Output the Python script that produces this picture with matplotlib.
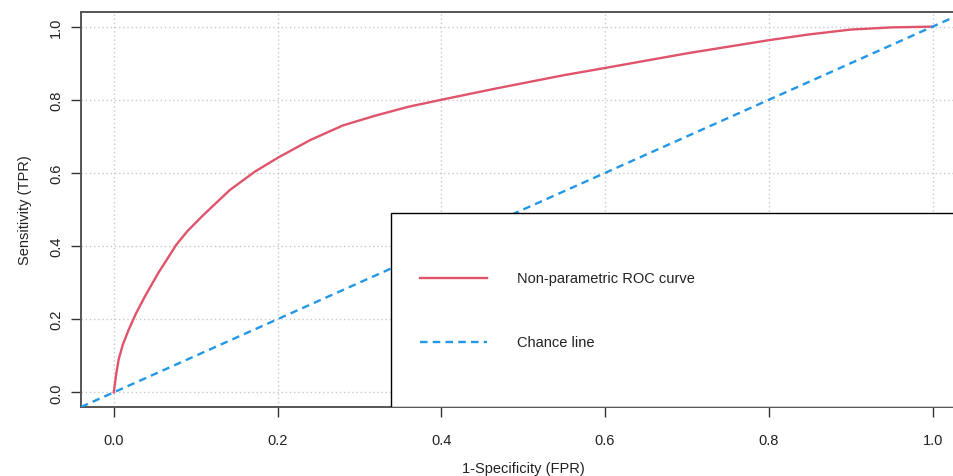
import matplotlib.pyplot as plt
from matplotlib.patches import Rectangle
from matplotlib.lines import Line2D

plt.rcParams['font.family'] = ['Liberation Sans', 'DejaVu Sans']

# ROC curve
fpr = [0.0, 0.003, 0.006, 0.011, 0.018, 0.027, 0.038, 0.054, 0.0765, 0.09,
       0.109, 0.1416, 0.172, 0.2, 0.24, 0.28, 0.32, 0.36, 0.4, 0.467,
       0.549, 0.6, 0.7, 0.8, 0.85, 0.9, 0.95, 1.0]
tpr = [0.0, 0.05, 0.09, 0.13, 0.17, 0.215, 0.262, 0.325, 0.404, 0.441,
       0.484, 0.553, 0.603, 0.641, 0.69, 0.73, 0.757, 0.781, 0.8, 0.831,
       0.867, 0.887, 0.927, 0.963, 0.979, 0.992, 0.998, 1.0]
ticks = [0.0, 0.2, 0.4, 0.6, 0.8, 1.0]
tick_labels = ['0.0', '0.2', '0.4', '0.6', '0.8', '1.0']
legend_labels = ['Non-parametric ROC curve', 'Chance line']

red = '#DF536B'
blue = '#2297E6'

fig = plt.figure(figsize=(9.54, 4.77), dpi=100)
ax = fig.add_axes([0.0849, 0.1447, 0.927, 0.828])
ax.set_xlim(-0.04, 1.04)
ax.set_ylim(-0.04, 1.04)

ax.set_xticks(ticks)
ax.set_xticklabels(tick_labels)
ax.set_yticks(ticks)
ax.set_yticklabels(tick_labels, rotation=90, va='center')
ax.tick_params(direction='out', length=7, width=1, color='#333333',
               labelsize=10.5, labelcolor='#222222', pad=6)
ax.tick_params(axis='x', pad=12)
ax.grid(True, color='#c8c8c8', linestyle=(0, (1, 2)), linewidth=1)
ax.set_axisbelow(True)
for s in ax.spines.values():
    s.set_color('#555555')
    s.set_linewidth(1.4)

ax.plot(fpr, tpr, color=red, lw=1.7, zorder=3, solid_joinstyle='round')
ax.axline((0, 0), slope=1, color=blue, lw=1.7, linestyle=(0, (3.2, 2.2)), zorder=3)

ax.set_xlabel('1-Specificity (FPR)', fontsize=10.5, color='#222222', labelpad=10)
ax.set_ylabel('Sensitivity (TPR)', fontsize=10.5, color='#222222', labelpad=12)

# legend box, drawn like R's legend()
ax.add_patch(Rectangle((0.3505, 0.0), 0.7, 0.491, transform=ax.transAxes,
                       facecolor='white', edgecolor='black', lw=1.0, zorder=5))
ax.add_line(Line2D([0.3833, 0.459], [0.3266, 0.3266], transform=ax.transAxes,
                   color=red, lw=1.7, zorder=6))
ax.add_line(Line2D([0.3833, 0.459], [0.1646, 0.1646], transform=ax.transAxes,
                   color=blue, lw=1.7, linestyle=(0, (3.2, 2.2)), zorder=6))
ax.text(0.493, 0.3266, legend_labels[0], transform=ax.transAxes, va='center',
        fontsize=10.5, color='#222222', zorder=7)
ax.text(0.493, 0.1646, legend_labels[1], transform=ax.transAxes, va='center',
        fontsize=10.5, color='#222222', zorder=7)

fig.savefig('out.png', dpi=100)
